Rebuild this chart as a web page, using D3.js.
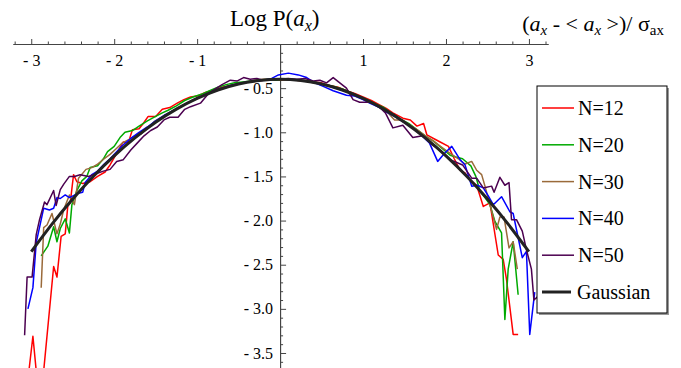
<!DOCTYPE html>
<html>
<head>
<meta charset="utf-8">
<script src="https://cdn.jsdelivr.net/npm/d3@7"></script>
<style>
  body { margin: 0; background: #fff; }
  svg { display: block; }
  svg text { font-family: "Liberation Serif", "DejaVu Serif", serif; }
</style>
</head>
<body>
<svg id="chart" width="681" height="368"></svg>
<script>
// series names & colours
var seriesNames = ["N=12", "N=20", "N=30", "N=40", "N=50"];
var seriesColors = ["#ff0000", "#00aa00", "#9a6a3a", "#0000ff", "#4b0050"];

// x tick labels
var xMajor = [-3, -2, -1, 1, 2, 3];
var yMajor = [-0.5, -1.0, -1.5, -2.0, -2.5, -3.0, -3.5];

// Log P values: [x, logP]
var n12 = [[-3.04,-3.8],[-2.98,-3.31],[-2.93,-3.8],[-2.86,-3.8],[-2.73,-2.52],[-2.69,-2.64],[-2.64,-2.18],[-2.59,-2.15],[-2.56,-1.84],[-2.53,-1.80],[-2.49,-1.48],[-2.45,-1.56],[-2.38,-1.58],[-2.29,-1.56],[-2.2,-1.50],[-2.11,-1.45],[-2.05,-1.37],[-1.97,-1.24],[-1.89,-1.11],[-1.83,-1.12],[-1.78,-0.97],[-1.70,-0.96],[-1.65,-0.90],[-1.59,-0.82],[-1.50,-0.82],[-1.42,-0.74],[-1.33,-0.72],[-1.24,-0.67],[-1.16,-0.63],[-1.08,-0.60],[-1.0,-0.59],[-0.9,-0.55],[-0.8,-0.52],[-0.7,-0.49],[-0.6,-0.47],[-0.5,-0.45],[-0.4,-0.43],[-0.3,-0.42],[-0.2,-0.41],[-0.1,-0.40],[0,-0.41],[0.1,-0.40],[0.2,-0.41],[0.3,-0.42],[0.4,-0.43],[0.5,-0.44],[0.6,-0.47],[0.7,-0.49],[0.8,-0.53],[0.9,-0.56],[1.0,-0.60],[1.1,-0.64],[1.2,-0.69],[1.28,-0.73],[1.36,-0.78],[1.48,-0.84],[1.57,-0.86],[1.65,-0.93],[1.73,-0.90],[1.77,-1.03],[1.85,-1.07],[1.93,-1.11],[2.03,-1.16],[2.10,-1.30],[2.17,-1.43],[2.23,-1.46],[2.29,-1.54],[2.37,-1.60],[2.45,-1.84],[2.53,-1.80],[2.63,-2.39],[2.69,-2.44],[2.73,-2.67],[2.81,-3.29],[2.87,-3.29]];
var n20 = [[-2.88,-2.40],[-2.80,-2.29],[-2.73,-2.07],[-2.69,-2.24],[-2.65,-2.09],[-2.59,-1.98],[-2.54,-2.14],[-2.51,-1.82],[-2.45,-1.66],[-2.39,-1.55],[-2.33,-1.50],[-2.29,-1.40],[-2.2,-1.38],[-2.13,-1.30],[-2.08,-1.22],[-2.0,-1.16],[-1.93,-1.06],[-1.87,-1.00],[-1.78,-0.98],[-1.70,-0.93],[-1.6,-0.87],[-1.5,-0.82],[-1.42,-0.78],[-1.35,-0.75],[-1.25,-0.70],[-1.15,-0.64],[-1.05,-0.60],[-0.95,-0.57],[-0.85,-0.53],[-0.75,-0.49],[-0.65,-0.46],[-0.55,-0.44],[-0.45,-0.43],[-0.35,-0.42],[-0.25,-0.41],[-0.15,-0.40],[-0.05,-0.41],[0.05,-0.40],[0.15,-0.41],[0.25,-0.41],[0.35,-0.42],[0.45,-0.44],[0.55,-0.46],[0.65,-0.48],[0.75,-0.51],[0.85,-0.55],[0.95,-0.59],[1.05,-0.63],[1.15,-0.68],[1.25,-0.72],[1.35,-0.79],[1.45,-0.85],[1.55,-0.90],[1.65,-0.97],[1.75,-1.04],[1.85,-1.10],[1.95,-1.18],[2.05,-1.26],[2.12,-1.28],[2.2,-1.30],[2.3,-1.38],[2.36,-1.50],[2.41,-1.67],[2.47,-1.74],[2.53,-1.82],[2.59,-2.01],[2.67,-2.14],[2.71,-3.12],[2.75,-2.55],[2.81,-2.24],[2.87,-2.84]];
var n30 = [[-2.88,-2.76],[-2.85,-2.08],[-2.81,-2.05],[-2.75,-1.92],[-2.69,-2.15],[-2.65,-2.04],[-2.61,-1.88],[-2.54,-1.71],[-2.48,-1.82],[-2.43,-1.52],[-2.34,-1.42],[-2.27,-1.40],[-2.2,-1.36],[-2.12,-1.30],[-2.05,-1.25],[-1.97,-1.18],[-1.9,-1.12],[-1.82,-1.08],[-1.75,-1.04],[-1.68,-1.02],[-1.6,-0.96],[-1.52,-0.88],[-1.45,-0.84],[-1.38,-0.80],[-1.3,-0.76],[-1.2,-0.71],[-1.1,-0.66],[-1.0,-0.62],[-0.9,-0.57],[-0.8,-0.54],[-0.7,-0.50],[-0.6,-0.47],[-0.5,-0.45],[-0.4,-0.43],[-0.3,-0.41],[-0.2,-0.40],[-0.1,-0.40],[0,-0.40],[0.1,-0.41],[0.2,-0.41],[0.3,-0.42],[0.4,-0.44],[0.5,-0.45],[0.6,-0.48],[0.7,-0.51],[0.8,-0.54],[0.9,-0.57],[1.0,-0.62],[1.1,-0.66],[1.2,-0.72],[1.3,-0.78],[1.38,-0.86],[1.46,-0.86],[1.55,-0.91],[1.65,-0.97],[1.75,-1.04],[1.85,-1.10],[1.95,-1.17],[2.05,-1.24],[2.15,-1.30],[2.23,-1.36],[2.31,-1.33],[2.37,-1.43],[2.43,-1.48],[2.47,-1.61],[2.53,-1.82],[2.61,-2.10],[2.65,-1.96],[2.70,-1.96],[2.76,-2.31],[2.81,-2.24],[2.86,-2.55]];
var n40 = [[-3.04,-3.0],[-2.98,-2.76],[-2.94,-2.25],[-2.85,-1.86],[-2.78,-1.88],[-2.73,-1.86],[-2.69,-1.74],[-2.65,-1.75],[-2.59,-1.71],[-2.54,-1.74],[-2.43,-1.69],[-2.38,-1.68],[-2.35,-1.57],[-2.27,-1.48],[-2.2,-1.44],[-2.12,-1.36],[-2.05,-1.30],[-1.97,-1.22],[-1.9,-1.15],[-1.8,-1.07],[-1.7,-1.00],[-1.6,-0.94],[-1.5,-0.87],[-1.4,-0.81],[-1.3,-0.76],[-1.2,-0.71],[-1.1,-0.66],[-1.0,-0.61],[-0.9,-0.57],[-0.8,-0.53],[-0.7,-0.50],[-0.6,-0.47],[-0.5,-0.45],[-0.4,-0.43],[-0.3,-0.42],[-0.2,-0.41],[-0.1,-0.39],[-0.02,-0.35],[0.1,-0.33],[0.22,-0.35],[0.32,-0.38],[0.42,-0.44],[0.52,-0.48],[0.64,-0.53],[0.8,-0.58],[0.9,-0.59],[1.0,-0.63],[1.08,-0.67],[1.2,-0.72],[1.3,-0.78],[1.4,-0.83],[1.5,-0.89],[1.6,-0.95],[1.7,-1.03],[1.8,-1.12],[1.90,-1.33],[1.98,-1.24],[2.07,-1.16],[2.17,-1.31],[2.23,-1.37],[2.31,-1.61],[2.38,-1.60],[2.45,-1.63],[2.51,-1.72],[2.57,-1.82],[2.67,-1.73],[2.77,-1.90],[2.81,-1.92],[2.92,-2.42],[2.97,-2.35],[3.01,-3.29],[3.07,-2.81]];
var n50 = [[-3.08,-3.30],[-3.05,-2.64],[-2.99,-2.64],[-2.94,-2.16],[-2.90,-1.99],[-2.84,-1.79],[-2.81,-1.82],[-2.73,-1.66],[-2.70,-1.83],[-2.65,-1.65],[-2.61,-1.59],[-2.54,-1.50],[-2.48,-1.50],[-2.41,-1.48],[-2.31,-1.50],[-2.22,-1.47],[-2.13,-1.44],[-2.05,-1.42],[-1.97,-1.33],[-1.89,-1.31],[-1.8,-1.20],[-1.72,-1.12],[-1.64,-1.04],[-1.56,-0.98],[-1.48,-0.94],[-1.40,-0.86],[-1.33,-0.83],[-1.23,-0.83],[-1.15,-0.74],[-1.08,-0.71],[-0.96,-0.67],[-0.88,-0.58],[-0.8,-0.52],[-0.7,-0.46],[-0.6,-0.41],[-0.52,-0.42],[-0.44,-0.38],[-0.36,-0.40],[-0.28,-0.39],[-0.2,-0.41],[-0.1,-0.40],[0,-0.40],[0.1,-0.39],[0.2,-0.40],[0.3,-0.39],[0.4,-0.42],[0.48,-0.41],[0.56,-0.44],[0.64,-0.38],[0.72,-0.44],[0.80,-0.50],[0.88,-0.63],[0.96,-0.66],[1.08,-0.66],[1.18,-0.70],[1.27,-0.78],[1.36,-0.95],[1.48,-0.92],[1.60,-1.06],[1.72,-1.04],[1.83,-1.14],[1.95,-1.22],[2.05,-1.31],[2.2,-1.37],[2.31,-1.52],[2.37,-1.52],[2.45,-1.63],[2.55,-1.61],[2.58,-1.68],[2.65,-1.51],[2.71,-1.60],[2.76,-1.57],[2.79,-1.99],[2.85,-1.99],[2.92,-2.12],[2.97,-2.33],[3.03,-2.55],[3.06,-2.90],[3.12,-2.85]];

// gaussian reference curve (x, logP)
var gaussX = [-3, -2.75, -2.5, -2.25, -2, -1.75, -1.5, -1.25, -1, -0.75, -0.5, -0.25, 0, 0.25, 0.5, 0.75, 1, 1.25, 1.5, 1.75, 2, 2.25, 2.5, 2.75, 3];
var gaussY = [-2.353, -2.041, -1.756, -1.498, -1.267, -1.064, -0.887, -0.738, -0.616, -0.521, -0.453, -0.413, -0.399, -0.413, -0.453, -0.521, -0.616, -0.738, -0.887, -1.064, -1.267, -1.498, -1.756, -2.041, -2.353];

var allSeries = [n12, n20, n30, n40, n50];

var svg = d3.select("#chart");

var x = d3.scaleLinear().domain([-3.22, 3.23]).range([13, 548]);
var y = d3.scaleLinear().domain([0, -3.67]).range([44, 368]);

// minor ticks
var xMinor = d3.range(-16, 17).map(function(i) { return i / 5; }).filter(function(v) { return Math.abs(v - Math.round(v)) > 1e-6; });
var yMinor = d3.range(1, 37).map(function(i) { return -i / 10; }).filter(function(v) { return Math.abs(v * 2 - Math.round(v * 2)) > 1e-6; });

function fmt(d) {
  return d < 0 ? "- " + Math.abs(d) : "" + d;
}

// x axis (along y = 0)
var gx = svg.append("g").attr("transform", "translate(0," + y(0) + ")");
gx.call(d3.axisBottom(x).tickValues(xMinor).tickSize(-2.5).tickSizeOuter(0).tickFormat(""));
gx.append("g").call(d3.axisBottom(x).tickValues(xMajor).tickSize(-5).tickSizeOuter(0).tickPadding(11).tickFormat(fmt));

// y axis (along x = 0)
var gy = svg.append("g").attr("transform", "translate(" + x(0) + ",0)");
gy.call(d3.axisLeft(y).tickValues(yMinor).tickSize(-3).tickSizeOuter(0).tickFormat(""));
gy.append("g").call(d3.axisLeft(y).tickValues(yMajor).tickSize(-6).tickSizeOuter(0).tickPadding(7)
  .tickFormat(function(d) { return "- " + Math.abs(d).toFixed(1); }));

svg.selectAll(".tick text")
  .style("font-family", "'Liberation Serif', serif")
  .style("font-size", "16px")
  .attr("fill", "#000");
svg.selectAll(".domain, .tick line").attr("stroke", "#444");

// curves
var line = d3.line()
  .x(function(d) { return x(d[0]); })
  .y(function(d) { return y(d[1]); });

svg.append("g").selectAll("path")
  .data(allSeries)
  .enter().append("path")
  .attr("d", line)
  .attr("fill", "none")
  .attr("stroke", function(d, i) { return seriesColors[i]; })
  .attr("stroke-width", 1.5)
  .attr("stroke-linejoin", "round");

var gauss = gaussX.map(function(v, i) { return [v, gaussY[i]]; });
svg.append("path")
  .attr("d", line.curve(d3.curveNatural)(gauss))
  .attr("fill", "none")
  .attr("stroke", "#222")
  .attr("stroke-width", 3);

// title & axis label
var title = svg.append("text").attr("x", 230).attr("y", 26).style("font-size", "23px");
title.append("tspan").text("Log P(");
title.append("tspan").attr("font-style", "italic").text("a");
title.append("tspan").attr("font-style", "italic").style("font-size", "16px").attr("dy", 5).text("x");
title.append("tspan").attr("dy", -5).text(")");

var xl = svg.append("text").attr("x", 664).attr("y", 31).style("font-size", "22px").attr("text-anchor", "end");
xl.append("tspan").text("(");
xl.append("tspan").attr("font-style", "italic").text("a");
xl.append("tspan").attr("font-style", "italic").style("font-size", "15px").attr("dy", 4).text("x");
xl.append("tspan").attr("dy", -4).text(" - < ");
xl.append("tspan").attr("font-style", "italic").text("a");
xl.append("tspan").attr("font-style", "italic").style("font-size", "15px").attr("dy", 4).text("x");
xl.append("tspan").attr("dy", -4).text(" >)/ σ");
xl.append("tspan").style("font-size", "15px").attr("dy", 4).text("ax");

// legend
var legend = svg.append("g").attr("transform", "translate(537,86)");
legend.append("rect").attr("x", 2).attr("y", 2).attr("width", 130).attr("height", 227).attr("fill", "#999");
legend.append("rect").attr("width", 130).attr("height", 227).attr("fill", "#fff").attr("stroke", "#000");

var legendNames = seriesNames.concat(["Gaussian"]);
var legendColors = seriesColors.concat(["#222"]);
var item = legend.selectAll(".item")
  .data(legendNames)
  .enter().append("g")
  .attr("class", "item")
  .attr("transform", function(d, i) { return "translate(0," + (22 + i * 36.8) + ")"; });

item.append("line")
  .attr("x1", 5).attr("x2", function(d, i) { return i == 5 ? 34 : 37; })
  .attr("stroke", function(d, i) { return legendColors[i]; })
  .attr("stroke-width", function(d, i) { return i == 5 ? 3 : 1.5; });

item.append("text")
  .attr("x", function(d, i) { return i == 5 ? 40 : 41; })
  .attr("dy", "0.35em")
  .style("font-size", "20px")
  .text(function(d) { return d; });
</script>
</body>
</html>
